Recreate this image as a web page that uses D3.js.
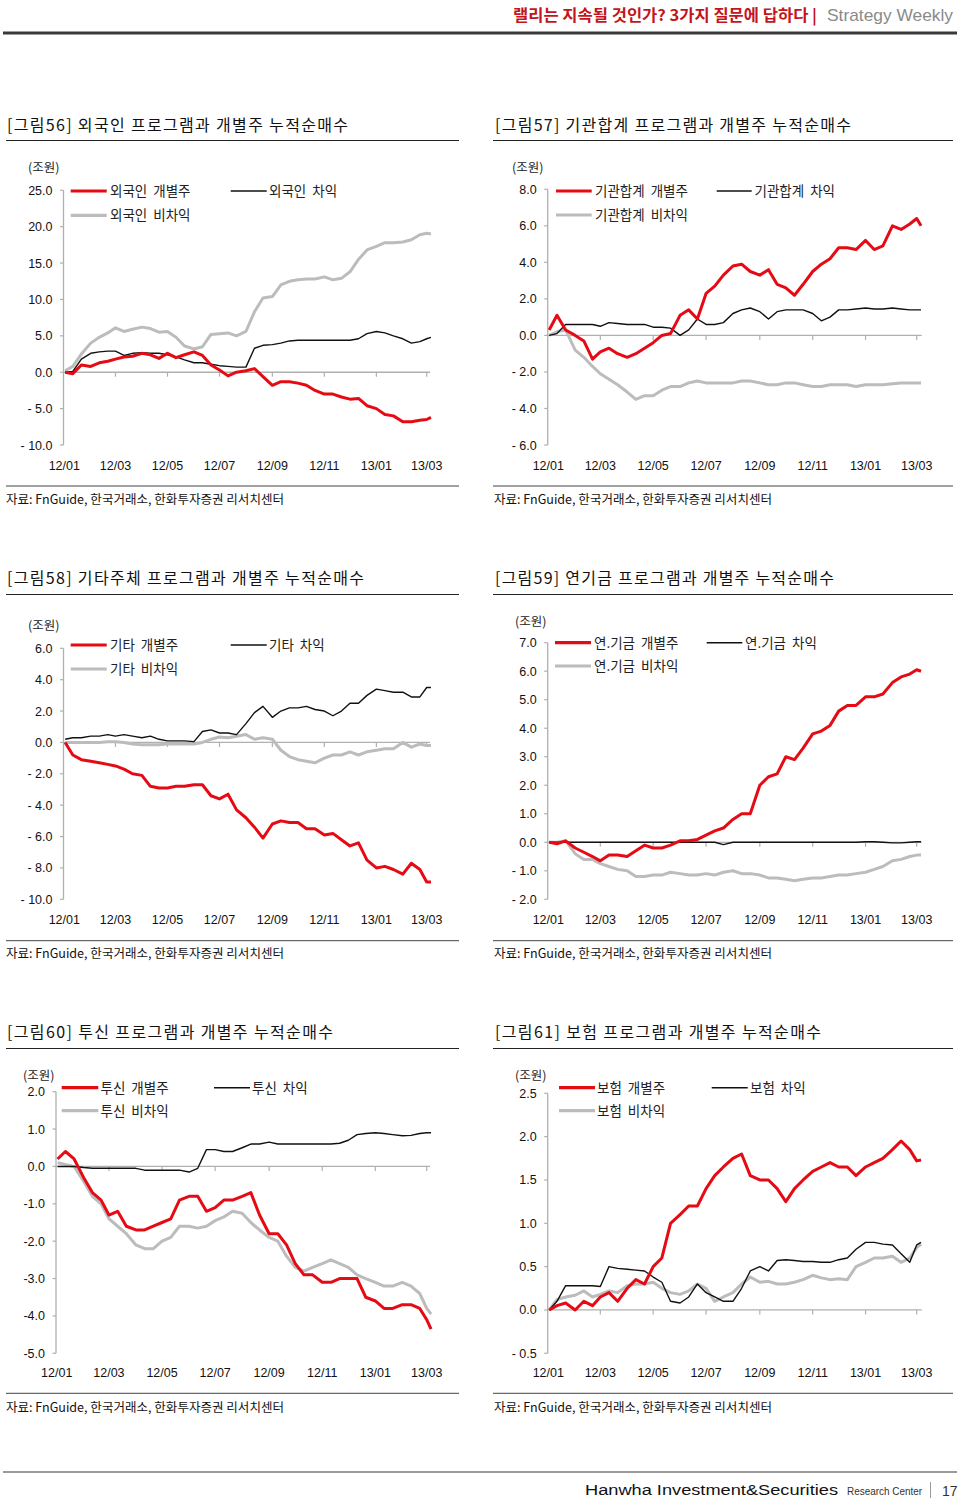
<!DOCTYPE html>
<html><head><meta charset="utf-8">
<script src="https://cdn.jsdelivr.net/npm/d3@7"></script>
<style>
body{margin:0;background:#fff;}
svg{display:block;}
.kr{font-family:"Noto Sans CJK KR","Noto Sans",sans-serif;}
.num{font-family:"Liberation Sans",Arial,sans-serif;}
</style></head><body>
<svg id="c" width="960" height="1501"></svg>
<script>
// ---------- shared data ----------
const dates = ["2012-01-02","2012-01-11","2012-01-21","2012-02-01","2012-02-11","2012-02-21",
"2012-03-01","2012-03-11","2012-03-21","2012-04-01","2012-04-11","2012-04-21",
"2012-05-01","2012-05-11","2012-05-21","2012-06-01","2012-06-11","2012-06-21",
"2012-07-01","2012-07-11","2012-07-21","2012-08-01","2012-08-11","2012-08-21",
"2012-09-01","2012-09-11","2012-09-21","2012-10-01","2012-10-11","2012-10-21",
"2012-11-01","2012-11-11","2012-11-21","2012-12-01","2012-12-11","2012-12-21",
"2013-01-01","2013-01-11","2013-01-21","2013-02-01","2013-02-11","2013-02-21",
"2013-03-01","2013-03-06"];
const xTickDates = ["2012-01-01","2012-03-01","2012-05-01","2012-07-01","2012-09-01","2012-11-01","2013-01-01","2013-03-01"];
const xTickLabels = ["12/01","12/03","12/05","12/07","12/09","12/11","13/01","13/03"];

// ---------- [그림56] 외국인 ----------
const foreignIndiv  = [0,-0.2,1.0,0.8,1.3,1.5,1.8,2.1,2.2,2.6,2.4,1.9,2.6,2.0,2.4,2.8,2.3,1.0,0.3,-0.5,0.0,0.2,0.5,-0.6,
  -1.8,-1.3,-1.3,-1.5,-1.8,-2.5,-3.0,-3.0,-3.4,-3.7,-3.6,-4.6,-5.0,-5.8,-6.0,-6.8,-6.8,-6.6,-6.5,-6.2];
const foreignArb    = [0,0.1,1.8,2.6,2.8,2.9,2.9,2.3,2.6,2.7,2.6,2.6,2.4,2.1,1.7,1.3,1.3,1.1,0.9,0.8,0.7,0.7,3.3,3.7,
  3.8,4.0,4.3,4.4,4.4,4.4,4.4,4.4,4.4,4.4,4.6,5.3,5.6,5.4,5.0,4.6,4.0,4.2,4.6,4.8];
const foreignNonArb = [0.2,0.8,2.5,4.0,4.8,5.4,6.1,5.6,5.9,6.2,6.0,5.5,5.6,4.8,3.6,3.2,3.5,5.2,5.3,5.4,5.0,5.6,8.3,10.2,
  10.4,12.0,12.5,12.7,12.8,12.8,13.1,12.7,12.9,13.8,15.5,16.8,17.3,17.8,17.8,17.9,18.2,18.9,19.1,19.0];
const foreignYTicks = [25,20,15,10,5,0,-5,-10];

// ---------- [그림57] 기관합계 ----------
const instIndiv  = [0.3,1.1,0.3,0.0,-0.3,-1.3,-0.9,-0.7,-1.0,-1.2,-1.0,-0.7,-0.4,0.0,0.1,1.1,1.4,0.9,2.3,2.7,3.3,3.8,3.9,3.5,
  3.3,3.6,2.8,2.6,2.2,2.8,3.5,3.9,4.2,4.8,4.8,4.7,5.2,4.7,4.9,6.0,5.8,6.1,6.4,6.0];
const instArb    = [0,0.1,0.6,0.6,0.6,0.6,0.5,0.7,0.65,0.6,0.6,0.6,0.45,0.45,0.4,0.0,0.3,0.9,0.6,0.6,0.7,1.2,1.4,1.5,
  1.3,0.9,1.3,1.4,1.4,1.4,1.2,0.8,1.0,1.4,1.4,1.45,1.5,1.45,1.45,1.5,1.45,1.4,1.4,1.4];
const instNonArb = [0,0.2,0.3,-0.8,-1.2,-1.7,-2.1,-2.4,-2.7,-3.1,-3.5,-3.3,-3.3,-3.0,-2.8,-2.8,-2.6,-2.5,-2.6,-2.6,-2.6,-2.6,-2.5,-2.5,
  -2.6,-2.7,-2.7,-2.6,-2.6,-2.7,-2.8,-2.8,-2.7,-2.7,-2.7,-2.8,-2.7,-2.7,-2.7,-2.65,-2.6,-2.6,-2.6,-2.6];
const instYTicks = [8,6,4,2,0,-2,-4,-6];

// ---------- [그림58] 기타주체 ----------
const otherIndiv  = [0,-0.8,-1.1,-1.2,-1.3,-1.4,-1.5,-1.7,-2.0,-2.1,-2.8,-2.9,-2.9,-2.8,-2.8,-2.7,-2.7,-3.4,-3.6,-3.3,-4.3,-4.8,-5.4,-6.1,
  -5.2,-5.0,-5.1,-5.1,-5.5,-5.5,-5.9,-5.8,-6.2,-6.6,-6.4,-7.5,-8.0,-7.9,-8.1,-8.4,-7.7,-8.1,-8.9,-8.9];
const otherArb    = [0.2,0.3,0.3,0.4,0.4,0.5,0.4,0.5,0.4,0.3,0.4,0.2,0.1,0.1,0.1,0.05,0.7,0.8,0.6,0.6,0.5,1.2,1.9,2.3,
  1.6,2.0,2.2,2.2,2.3,2.1,2.0,1.7,2.0,2.5,2.5,3.0,3.4,3.3,3.2,3.2,2.9,2.9,3.5,3.5];
const otherNonArb = [0,0,0,0,0,0.05,0.05,0,-0.1,-0.15,-0.15,-0.15,-0.1,-0.1,-0.1,-0.1,0.0,0.2,0.35,0.3,0.4,0.5,0.2,0.3,
  0.2,-0.5,-0.9,-1.1,-1.2,-1.3,-1.0,-0.8,-0.8,-0.6,-0.8,-0.6,-0.5,-0.4,-0.4,0.0,-0.3,-0.1,-0.2,-0.2];
const otherYTicks = [6,4,2,0,-2,-4,-6,-8,-10];

// ---------- [그림59] 연기금 ----------
const pensionIndiv  = [0,-0.05,0.05,-0.2,-0.35,-0.5,-0.65,-0.45,-0.45,-0.5,-0.3,-0.1,-0.2,-0.2,-0.1,0.05,0.05,0.1,0.25,0.4,0.5,0.8,1.0,1.0,
  2.0,2.3,2.4,3.0,2.9,3.3,3.8,3.9,4.1,4.6,4.8,4.8,5.1,5.1,5.2,5.6,5.8,5.9,6.05,6.0];
const pensionArb    = [0,0,0,0,0,0,0,0,0,0,0,0,0,0,0,0,0,0,0,0,-0.08,0,0,0,
  0,0,0,0,0,0,0,0,0,0,0,0,0.02,0.02,0,-0.02,-0.02,0,0.02,0.02];
const pensionNonArb = [0,0,0.05,-0.4,-0.6,-0.6,-0.75,-0.85,-0.95,-1.0,-1.2,-1.2,-1.15,-1.15,-1.05,-1.1,-1.15,-1.15,-1.1,-1.15,-1.05,-1.0,-1.1,-1.1,
  -1.15,-1.25,-1.25,-1.3,-1.35,-1.3,-1.25,-1.25,-1.2,-1.15,-1.15,-1.1,-1.05,-0.95,-0.85,-0.65,-0.6,-0.5,-0.45,-0.45];
const pensionYTicks = [7,6,5,4,3,2,1,0,-1,-2];

// ---------- [그림60] 투신 ----------
const trustIndiv  = [0.2,0.4,0.2,-0.3,-0.7,-0.9,-1.3,-1.2,-1.6,-1.7,-1.7,-1.6,-1.5,-1.4,-0.9,-0.8,-0.8,-1.2,-1.1,-0.9,-0.9,-0.8,-0.7,-1.3,
  -1.8,-1.8,-2.1,-2.6,-2.9,-2.9,-3.1,-3.1,-3.0,-3.0,-3.0,-3.5,-3.6,-3.8,-3.8,-3.7,-3.7,-3.8,-4.1,-4.35];
const trustArb    = [0,0,0,-0.03,-0.05,-0.05,-0.05,-0.05,-0.05,-0.05,-0.1,-0.1,-0.1,-0.1,-0.1,-0.15,-0.05,0.45,0.45,0.4,0.4,0.5,0.6,0.6,
  0.65,0.6,0.6,0.6,0.6,0.6,0.6,0.6,0.62,0.7,0.85,0.88,0.9,0.88,0.85,0.82,0.83,0.88,0.9,0.9];
const trustNonArb = [0.1,0.05,0.0,-0.4,-0.8,-1.0,-1.4,-1.6,-1.8,-2.1,-2.2,-2.2,-2.0,-1.9,-1.6,-1.6,-1.65,-1.6,-1.45,-1.35,-1.2,-1.25,-1.5,-1.7,
  -1.9,-2.0,-2.4,-2.7,-2.8,-2.7,-2.6,-2.5,-2.6,-2.7,-2.9,-3.0,-3.1,-3.2,-3.2,-3.1,-3.2,-3.4,-3.8,-3.95];
const trustYTicks = [2,1,0,-1,-2,-3,-4,-5];

// ---------- [그림61] 보험 ----------
const insurIndiv  = [0,0.05,0.08,0.0,0.1,0.05,0.15,0.2,0.1,0.25,0.35,0.3,0.5,0.6,1.0,1.1,1.2,1.2,1.4,1.55,1.65,1.75,1.8,1.55,
  1.5,1.5,1.4,1.25,1.4,1.5,1.6,1.65,1.7,1.65,1.65,1.55,1.65,1.7,1.75,1.85,1.95,1.85,1.72,1.73];
const insurArb    = [0,0.1,0.28,0.28,0.28,0.28,0.27,0.5,0.48,0.47,0.46,0.45,0.38,0.32,0.1,0.08,0.15,0.3,0.2,0.15,0.1,0.1,0.25,0.45,
  0.5,0.45,0.57,0.58,0.57,0.56,0.56,0.55,0.55,0.58,0.6,0.7,0.78,0.78,0.76,0.75,0.65,0.55,0.75,0.78];
const insurNonArb = [0,0.12,0.15,0.17,0.22,0.15,0.18,0.22,0.2,0.28,0.3,0.3,0.32,0.25,0.2,0.18,0.22,0.3,0.25,0.1,0.15,0.2,0.3,0.38,
  0.32,0.33,0.3,0.3,0.32,0.35,0.4,0.37,0.35,0.36,0.35,0.5,0.55,0.6,0.6,0.62,0.55,0.6,0.72,0.76];
const insurYTicks = [2.5,2.0,1.5,1.0,0.5,0,-0.5];

const titles = ["[그림56] 외국인 프로그램과 개별주 누적순매수","[그림57] 기관합계 프로그램과 개별주 누적순매수",
"[그림58] 기타주체 프로그램과 개별주 누적순매수","[그림59] 연기금 프로그램과 개별주 누적순매수",
"[그림60] 투신 프로그램과 개별주 누적순매수","[그림61] 보험 프로그램과 개별주 누적순매수"];
const subjects = ["외국인","기관합계","기타","연.기금","투신","보험"];
const seriesSuffix = ["개별주","차익","비차익"];
const unitLabel = "(조원)";
const sourceText = "자료: FnGuide, 한국거래소, 한화투자증권 리서치센터";

// ---------- layout ----------
const L = {titleX:7, ruleX:[6,459], axisX:63.5, xr:[64.3,426.7], lineEnd:430, unitX:28, red:[70.7,106.7], redTx:110, blk:[230.7,266.7], blkTx:269};
const R = {titleX:495, ruleX:[493,953], axisX:547.7, xr:[548.3,916.7], lineEnd:921.7, unitX:512, red:[556,591.7], redTx:595, blk:[716.7,751.7], blkTx:754.5};
const panels = [
 Object.assign({}, L, {titleY:125, titleW:341, ruleY:140.5, yr:[190.3,445], unitY:167, legY1:191, legY2:215.3, xLabelY:465, srcRuleY:486, srcY:499, minus:"- ",
   data:[foreignIndiv,foreignArb,foreignNonArb], ticks:foreignYTicks}),
 Object.assign({}, R, {titleY:125, titleW:356, ruleY:140.5, yr:[189.3,445], unitY:167, legY1:191, legY2:215, xLabelY:465, srcRuleY:486, srcY:499, minus:"- ",
   data:[instIndiv,instArb,instNonArb], ticks:instYTicks}),
 Object.assign({}, L, {titleY:578.5, titleW:357, ruleY:594.5, yr:[648.3,899.3], unitY:625.7, legY1:645, legY2:669, xLabelY:919.3, srcRuleY:940.7, srcY:953, minus:"- ",
   data:[otherIndiv,otherArb,otherNonArb], ticks:otherYTicks}),
 Object.assign({}, R, {titleY:578.5, titleW:339, ruleY:594.5, yr:[642.7,899.3], unitX:515, unitY:621.7, red:[555,591], redTx:594, blk:[706.7,742.3], blkTx:745, legY1:642.7, legY2:666, xLabelY:919.3, srcRuleY:940.7, srcY:953, minus:"- ",
   data:[pensionIndiv,pensionArb,pensionNonArb], ticks:pensionYTicks}),
 Object.assign({}, L, {titleY:1032, titleW:326, ruleY:1048.5, axisX:56, xr:[56.7,426.7], yr:[1091.7,1353.3], unitX:23, unitY:1075, red:[61.7,98.3], redTx:100.5, blk:[214,250], blkTx:252, legY1:1087.7, legY2:1110.7, xLabelY:1372.7, srcRuleY:1393.3, srcY:1407.3, minus:"-",
   data:[trustIndiv,trustArb,trustNonArb], ticks:trustYTicks}),
 Object.assign({}, R, {titleY:1032, titleW:326, ruleY:1048.5, yr:[1093.3,1353.3], unitX:515, unitY:1075, red:[559,595], redTx:597, blk:[711.7,747.7], blkTx:750, legY1:1087.7, legY2:1110.7, xLabelY:1372.7, srcRuleY:1393.3, srcY:1407.3, minus:"- ",
   data:[insurIndiv,insurArb,insurNonArb], ticks:insurYTicks})
];

const RED="#e50a14", BLACK="#111", GRAY="#bcbcbc", AXIS="#b0b0b0";
const fmt = d3.format(".1f");
const parse = d3.timeParse("%Y-%m-%d");
const svg = d3.select("#c");

// header
svg.append("text").attr("class","kr").attr("x",817).attr("y",20.5).attr("text-anchor","end")
  .attr("font-size",15.5).attr("font-weight",700).attr("fill","#c4141c").attr("textLength",304).attr("lengthAdjust","spacingAndGlyphs")
  .text("랠리는 지속될 것인가? 3가지 질문에 답하다 |");
svg.append("text").attr("class","num").attr("x",827).attr("y",21).attr("font-size",17).attr("fill","#8a8a8a")
  .attr("textLength",126).attr("lengthAdjust","spacingAndGlyphs").text("Strategy Weekly");
svg.append("rect").attr("x",3).attr("y",31.5).attr("width",954).attr("height",3).attr("fill","#3a3a3a");

// footer
svg.append("rect").attr("x",3).attr("y",1471).attr("width",954).attr("height",2).attr("fill","#9a9a9a");
svg.append("text").attr("class","num").attr("x",585).attr("y",1495).attr("font-size",15.5).attr("fill","#111")
  .attr("textLength",253).attr("lengthAdjust","spacingAndGlyphs").text("Hanwha Investment&Securities");
svg.append("text").attr("class","num").attr("x",847).attr("y",1495).attr("font-size",11).attr("fill","#333")
  .attr("textLength",75).attr("lengthAdjust","spacingAndGlyphs").text("Research Center");
svg.append("rect").attr("x",930).attr("y",1482).attr("width",1).attr("height",16).attr("fill","#999");
svg.append("text").attr("class","num").attr("x",942).attr("y",1496).attr("font-size",14).attr("fill","#333").text("17");

panels.forEach((p,pi)=>{
  const g = svg.append("g");
  // title
  g.append("text").attr("class","kr").attr("x",p.titleX).attr("y",p.titleY).attr("dy","0.36em")
    .attr("font-size",16).attr("fill","#111").attr("textLength",p.titleW).attr("lengthAdjust","spacing").text(titles[pi]);
  g.append("line").attr("x1",p.ruleX[0]).attr("x2",p.ruleX[1]).attr("y1",p.ruleY).attr("y2",p.ruleY).attr("stroke","#222").attr("stroke-width",1.2);
  // source
  g.append("line").attr("x1",p.ruleX[0]).attr("x2",p.ruleX[1]).attr("y1",p.srcRuleY).attr("y2",p.srcRuleY).attr("stroke","#444").attr("stroke-width",1);
  g.append("text").attr("class","kr").attr("x",p.titleX-1).attr("y",p.srcY).attr("dy","0.36em")
    .attr("font-size",12.5).attr("fill","#111").attr("textLength",278).attr("lengthAdjust","spacingAndGlyphs").text(sourceText);
  // unit
  g.append("text").attr("class","kr").attr("x",p.unitX).attr("y",p.unitY).attr("dy","0.36em")
    .attr("font-size",12.5).attr("fill","#222").text(unitLabel);

  const y = d3.scaleLinear().domain([p.ticks[0], p.ticks[p.ticks.length-1]]).range(p.yr);
  const x = d3.scaleTime().domain([parse(xTickDates[0]), parse(xTickDates[xTickDates.length-1])]).range(p.xr);

  // y axis
  g.append("line").attr("x1",p.axisX).attr("x2",p.axisX).attr("y1",p.yr[0]).attr("y2",p.yr[1]).attr("stroke",AXIS).attr("stroke-width",1.3);
  p.ticks.forEach(t=>{
    g.append("line").attr("x1",p.axisX-3.5).attr("x2",p.axisX).attr("y1",y(t)).attr("y2",y(t)).attr("stroke",AXIS).attr("stroke-width",1.2);
    const s = t<0 ? p.minus + fmt(-t) : fmt(t);
    g.append("text").attr("class","num").attr("x",p.axisX-11).attr("y",y(t)).attr("dy","0.36em")
      .attr("text-anchor","end").attr("font-size",12.5).attr("fill","#111").text(s);
  });
  // x axis at zero
  const y0 = y(0);
  g.append("line").attr("x1",p.axisX).attr("x2",p.lineEnd).attr("y1",y0).attr("y2",y0).attr("stroke",AXIS).attr("stroke-width",1.3);
  xTickDates.forEach((d,i)=>{
    const xx = x(parse(d));
    if(i>0) g.append("line").attr("x1",xx).attr("x2",xx).attr("y1",y0).attr("y2",y0+4.5).attr("stroke",AXIS).attr("stroke-width",1.2);
    g.append("text").attr("class","num").attr("x",xx).attr("y",p.xLabelY).attr("dy","0.36em")
      .attr("text-anchor","middle").attr("font-size",12.5).attr("fill","#111").text(xTickLabels[i]);
  });

  // lines: gray, black, red
  const line = d3.line().x((v,i)=>x(parse(dates[i]))).y(v=>y(v));
  const styles = [{c:RED,w:3},{c:BLACK,w:1.4},{c:GRAY,w:3}];
  [2,1,0].forEach(k=>{
    g.append("path").attr("d",line(p.data[k])).attr("fill","none").attr("stroke",styles[k].c)
      .attr("stroke-width",styles[k].w).attr("stroke-linejoin","round");
  });

  // legend
  const leg = [[p.red,p.redTx,p.legY1,0],[p.blk,p.blkTx,p.legY1,1],[p.red,p.redTx,p.legY2,2]];
  leg.forEach(([xs,tx,ly,k])=>{
    g.append("line").attr("x1",xs[0]).attr("x2",xs[1]).attr("y1",ly).attr("y2",ly)
      .attr("stroke",styles[k].c).attr("stroke-width",k===1?1.6:3.2);
    g.append("text").attr("class","kr").attr("x",tx).attr("y",ly).attr("dy","0.36em")
      .attr("font-size",13.5).attr("fill","#222").attr("word-spacing","3px").text(subjects[pi]+" "+seriesSuffix[k]);
  });
});
</script>
</body></html>
